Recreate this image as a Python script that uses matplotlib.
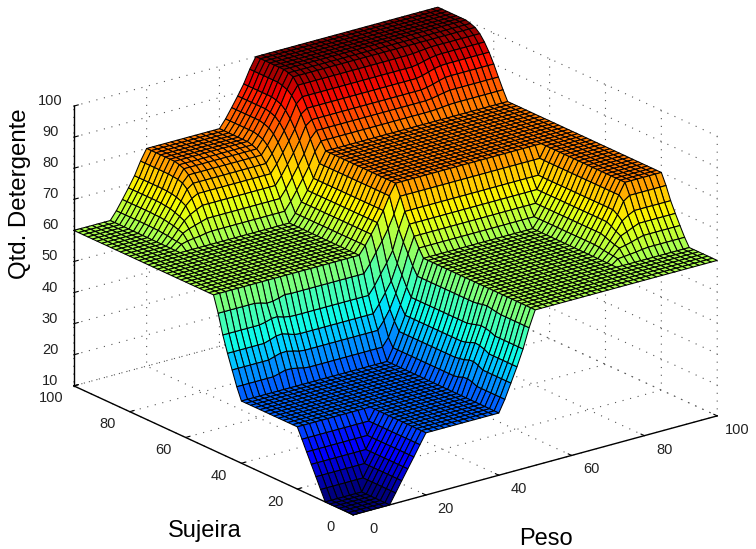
import numpy as np
import matplotlib
matplotlib.use('Agg')
import matplotlib.pyplot as plt
from matplotlib import cm
from mpl_toolkits.mplot3d import proj3d

# Surface: distinct rows/columns, the flat parts repeat
col_repeat = [7, 1, 1, 1, 1, 1, 13, 1, 1, 1, 1, 1, 19, 1, 1, 1, 1, 1, 7]
row_repeat = [7, 1, 1, 1, 1, 1, 13, 1, 1, 1, 1, 1, 16, 1, 1, 1, 1, 1, 1, 1, 1, 7]

qtd_rows = [
    [10, 13.3, 16.7, 20, 23.3, 26.7, 30, 33.9, 38.6, 43.3, 48.5, 54.8, 60, 60, 60, 60, 60, 60, 60],
    [13.3, 13.3, 16.7, 20, 23.3, 26.7, 30, 34.6, 39.4, 44.1, 49.2, 55.0, 60, 61.5, 61.7, 61.9, 62.1, 62.4, 62.6],
    [16.7, 16.7, 16.7, 20, 23.3, 26.7, 30, 35.0, 40.0, 44.6, 49.6, 55.3, 60, 61.7, 63.7, 64.1, 64.6, 65.2, 65.7],
    [20, 20, 20, 20, 23.3, 26.7, 30, 34.8, 39.8, 44.8, 49.8, 55.6, 60, 61.9, 64.1, 66.4, 67.2, 68.1, 68.9],
    [23.3, 23.3, 23.3, 23.3, 23.3, 26.7, 30, 34.2, 39.2, 44.2, 49.4, 55.4, 60, 62.1, 64.6, 67.2, 70.0, 71.3, 72.3],
    [26.7, 26.7, 26.7, 26.7, 26.7, 26.7, 30, 33.9, 38.9, 43.6, 48.9, 55.0, 60, 62.4, 65.2, 68.1, 71.3, 75.1, 76.5],
    [30, 30, 30, 30, 30, 30, 30, 33.9, 38.6, 43.3, 48.5, 54.8, 60, 62.6, 65.7, 68.9, 72.3, 76.5, 80],
    [33.9, 34.4, 35.0, 35.0, 34.6, 34.1, 33.9, 36.5, 41.2, 45.9, 51.1, 57.4, 62.6, 62.6, 65.7, 68.9, 72.3, 76.5, 80],
    [38.6, 39.2, 39.8, 39.9, 39.4, 38.8, 38.6, 41.2, 44.4, 49.0, 54.3, 60.6, 65.7, 65.7, 65.7, 68.9, 72.3, 76.5, 80],
    [43.3, 43.9, 44.6, 44.8, 44.2, 43.5, 43.3, 45.9, 49.0, 52.2, 57.4, 63.7, 68.9, 68.9, 68.9, 68.9, 72.3, 76.5, 80],
    [48.5, 48.9, 49.5, 49.6, 49.0, 48.6, 48.5, 51.1, 54.3, 57.4, 60.9, 67.2, 72.3, 72.3, 72.3, 72.3, 72.3, 76.5, 80],
    [54.8, 54.4, 53.8, 53.9, 54.4, 55.0, 54.8, 57.4, 60.6, 63.7, 67.2, 71.4, 76.5, 76.5, 76.5, 76.5, 76.5, 76.5, 80],
    [60, 60, 60, 60, 60, 60, 60, 62.6, 65.7, 68.9, 72.3, 76.5, 80, 80, 80, 80, 80, 80, 80],
    [60, 61.5, 62.0, 62.3, 62.5, 62.9, 63.1, 65.7, 68.8, 72.0, 75.4, 79.6, 82.5, 82.6, 82.8, 83.0, 83.1, 83.1, 83.1],
    [60, 61.7, 63.8, 64.7, 65.3, 65.9, 66.5, 69.1, 72.2, 75.4, 78.8, 83.0, 85.2, 85.4, 85.8, 86.2, 86.5, 86.5, 86.5],
    [60, 61.9, 64.3, 66.6, 68.1, 69.1, 70.0, 72.6, 75.7, 78.9, 82.3, 86.5, 88.0, 88.3, 88.8, 89.4, 89.9, 90.0, 90.0],
    [60, 62.2, 64.8, 67.3, 70.2, 72.0, 73.1, 75.7, 78.8, 82.0, 85.4, 89.6, 91.0, 91.4, 92.0, 92.6, 93.0, 93.1, 93.1],
    [60, 62.3, 65.1, 67.9, 71.0, 74.3, 75.7, 78.3, 81.4, 84.6, 88.0, 92.2, 94.0, 94.3, 94.8, 95.3, 95.6, 95.7, 95.7],
    [60, 62.5, 65.4, 68.4, 71.6, 75.6, 77.7, 80.3, 83.4, 86.6, 90.0, 94.2, 97.0, 97.1, 97.3, 97.5, 97.7, 97.7, 97.7],
    [60, 62.5, 65.6, 68.6, 72.0, 76.1, 79.0, 81.6, 84.7, 87.9, 91.3, 95.5, 99.0, 99.0, 99.0, 99.0, 99.0, 99.0, 99.0],
    [60, 62.6, 65.6, 68.8, 72.2, 76.3, 79.6, 82.2, 85.3, 88.5, 91.9, 96.1, 99.6, 99.6, 99.6, 99.6, 99.6, 99.6, 99.6],
    [60, 62.6, 65.7, 68.9, 72.3, 76.5, 80, 82.6, 85.7, 88.9, 92.3, 96.5, 100, 100, 100, 100, 100, 100, 100],
]

peso_ticks = [0, 20, 40, 60, 80, 100]
sujeira_ticks = [0, 20, 40, 60, 80, 100]
qtd_ticks = [10, 20, 30, 40, 50, 60, 70, 80, 90, 100]

plt.rcParams['font.family'] = ['Liberation Sans', 'DejaVu Sans']
plt.rcParams['grid.linestyle'] = (0, (1, 6))
plt.rcParams['grid.color'] = '#555555'
plt.rcParams['grid.linewidth'] = 0.8

Z = np.repeat(np.repeat(np.array(qtd_rows, dtype=float), col_repeat, axis=1), row_repeat, axis=0)
peso = np.linspace(0, 100, Z.shape[1])
sujeira = np.linspace(0, 100, Z.shape[0])
X, Y = np.meshgrid(peso, sujeira)

fig = plt.figure(figsize=(7.56, 5.49), dpi=100)
ax = fig.add_axes([39.3 / 756, -68.2 / 549, 693.7 / 756, 693.7 / 549], projection='3d', proj_type='ortho')
ax.view_init(elev=20.74, azim=-127.5)
ax.set_box_aspect((1, 1, 0.652))

colors = cm.jet((Z - 10) / 90)
ax.plot_surface(X, Y, Z, facecolors=colors, rcount=61, ccount=61, shade=False,
                edgecolor='black', linewidth=0.75, antialiased=True)

ax.set_xlim(0, 100, view_margin=0)
ax.set_ylim(0, 100, view_margin=0)
ax.set_zlim(10, 100, view_margin=0)
ax.set_xticks(peso_ticks)
ax.set_yticks(sujeira_ticks)
ax.set_zticks(qtd_ticks)
ax.set_xticklabels([])
ax.set_yticklabels([])
ax.set_zticklabels([])

for axis in (ax.xaxis, ax.yaxis, ax.zaxis):
    axis.set_pane_color((1, 1, 1, 0))
    axis.pane.set_edgecolor((1, 1, 1, 0))
    axis.line.set_color('black')
    axis.line.set_linewidth(1.0)
    axis._axinfo['tick']['inward_factor'] = 0.0
    axis._axinfo['tick']['outward_factor'] = 0.15
ax.zaxis.set_ticks_position('upper')
ax.tick_params(axis='both', width=0.8)


def tick_text(x, y, z, label):
    # projected by hand so the text sits at its real place on the 2d axes
    px, py, _ = proj3d.proj_transform(x, y, z, ax.get_proj())
    ax.text2D(px, py, label, transform=ax.transData, fontsize=10.5, ha='center', va='center', color='#222222')


for v in peso_ticks:
    tick_text(v, -7.1, 8.45, str(v))
for v in sujeira_ticks:
    tick_text(-6.1, v, 7.9, str(v))
for v in qtd_ticks:
    tick_text(0, 108.5, v - 1.9, str(v))

fig.text(20 / 756, 1 - 194 / 549, 'Qtd. Detergente', rotation=90, fontsize=17.3, ha='center', va='center')
fig.text(205 / 756, 1 - 531 / 549, 'Sujeira', fontsize=17, ha='center', va='center')
fig.text(546 / 756, 1 - 539 / 549, 'Peso', fontsize=17, ha='center', va='center')

fig.savefig('out.png', dpi=100)
